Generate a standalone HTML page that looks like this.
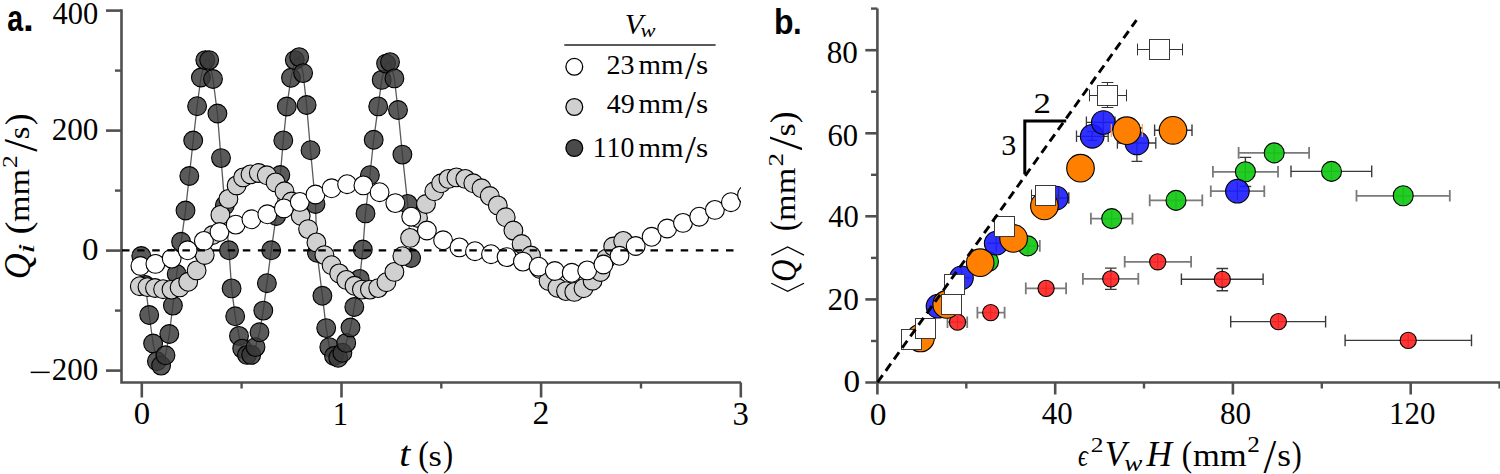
<!DOCTYPE html><html><head><meta charset="utf-8"><style>html,body{margin:0;padding:0;background:#fff;}svg{display:block;} text{font-family:"Liberation Serif",serif;}</style></head><body>
<svg width="1500" height="474" viewBox="0 0 1500 474">
<defs><clipPath id="ca"><rect x="122" y="0" width="619" height="381"/></clipPath></defs>
<path d="M121.5 9.3 V382.5 H741" fill="none" stroke="#505050" stroke-width="2.6"/>
<line x1="106" y1="10.6" x2="121.5" y2="10.6" stroke="#505050" stroke-width="2.6"/>
<line x1="106" y1="130.6" x2="121.5" y2="130.6" stroke="#505050" stroke-width="2.6"/>
<line x1="106" y1="250.6" x2="121.5" y2="250.6" stroke="#505050" stroke-width="2.6"/>
<line x1="106" y1="370.6" x2="121.5" y2="370.6" stroke="#505050" stroke-width="2.6"/>
<line x1="115" y1="70.6" x2="121.5" y2="70.6" stroke="#505050" stroke-width="2.4"/>
<line x1="115" y1="190.6" x2="121.5" y2="190.6" stroke="#505050" stroke-width="2.4"/>
<line x1="115" y1="310.6" x2="121.5" y2="310.6" stroke="#505050" stroke-width="2.4"/>
<line x1="141.8" y1="382.5" x2="141.8" y2="397.5" stroke="#505050" stroke-width="2.6"/>
<line x1="341.5" y1="382.5" x2="341.5" y2="397.5" stroke="#505050" stroke-width="2.6"/>
<line x1="541.1" y1="382.5" x2="541.1" y2="397.5" stroke="#505050" stroke-width="2.6"/>
<line x1="740.8" y1="382.5" x2="740.8" y2="397.5" stroke="#505050" stroke-width="2.6"/>
<line x1="241.6" y1="382.5" x2="241.6" y2="388.5" stroke="#505050" stroke-width="2.4"/>
<line x1="441.3" y1="382.5" x2="441.3" y2="388.5" stroke="#505050" stroke-width="2.4"/>
<line x1="641.0" y1="382.5" x2="641.0" y2="388.5" stroke="#505050" stroke-width="2.4"/>
<text transform="matrix(0.30505 0 0 0.32602 52.40 23.58)" font-size="100" style="font-family:'Liberation Serif',serif;font-style:normal;font-weight:normal;font-kerning:none" fill="#000">400</text>
<text transform="matrix(0.31242 0 0 0.31861 51.63 140.49)" font-size="100" style="font-family:'Liberation Serif',serif;font-style:normal;font-weight:normal;font-kerning:none" fill="#000">200</text>
<text transform="matrix(0.33032 0 0 0.31120 82.04 260.40)" font-size="100" style="font-family:'Liberation Serif',serif;font-style:normal;font-weight:normal;font-kerning:none" fill="#000">0</text>
<text transform="matrix(0.31030 0 0 0.31861 51.84 380.29)" font-size="100" style="font-family:'Liberation Serif',serif;font-style:normal;font-weight:normal;font-kerning:none" fill="#000">200</text>
<text transform="matrix(0.32796 0 0 0.32009 133.85 424.39)" font-size="100" style="font-family:'Liberation Serif',serif;font-style:normal;font-weight:normal;font-kerning:none" fill="#000">0</text>
<text transform="matrix(0.30677 0 0 0.32720 332.80 424.70)" font-size="100" style="font-family:'Liberation Serif',serif;font-style:normal;font-weight:normal;font-kerning:none" fill="#000">1</text>
<text transform="matrix(0.33676 0 0 0.32774 532.62 424.40)" font-size="100" style="font-family:'Liberation Serif',serif;font-style:normal;font-weight:normal;font-kerning:none" fill="#000">2</text>
<text transform="matrix(0.32681 0 0 0.32744 732.54 424.58)" font-size="100" style="font-family:'Liberation Serif',serif;font-style:normal;font-weight:normal;font-kerning:none" fill="#000">3</text>
<rect x="30.7" y="371.6" width="19" height="1.5" fill="#000"/>
<text transform="matrix(0.39778 0 0 0.36316 399.15 465.75)" font-size="100" style="font-family:'Liberation Serif',serif;font-style:italic;font-weight:normal;font-kerning:none" fill="#000">t</text>
<text transform="matrix(0.31927 0 0 0.34960 418.30 465.86)" font-size="100" style="font-family:'Liberation Serif',serif;font-style:normal;font-weight:normal;font-kerning:none" fill="#000">(</text>
<text transform="matrix(0.34294 0 0 0.30356 428.59 465.80)" font-size="100" style="font-family:'Liberation Serif',serif;font-style:normal;font-weight:normal;font-kerning:none" fill="#000">s</text>
<text transform="matrix(0.30370 0 0 0.34960 443.02 465.86)" font-size="100" style="font-family:'Liberation Serif',serif;font-style:normal;font-weight:normal;font-kerning:none" fill="#000">)</text>
<g transform="translate(29,277.3) rotate(-90)">
<text transform="matrix(0.35933 0 0 0.36883 -1.98 0.62)" font-size="100" style="font-family:'Liberation Serif',serif;font-style:italic;font-weight:normal;font-kerning:none" fill="#000">Q</text>
<text transform="matrix(0.36999 0 0 0.22957 23.64 4.70)" font-size="100" style="font-family:'Liberation Serif',serif;font-style:italic;font-weight:normal;font-kerning:none" fill="#000">i</text>
<text transform="matrix(0.38935 0 0 0.35843 42.89 0.57)" font-size="100" style="font-family:'Liberation Serif',serif;font-style:normal;font-weight:normal;font-kerning:none" fill="#000">(</text>
<text transform="matrix(0.34166 0 0 0.29287 55.18 0.00)" font-size="100" style="font-family:'Liberation Serif',serif;font-style:normal;font-weight:normal;font-kerning:none" fill="#000">mm</text>
<text transform="matrix(0.25444 0 0 0.20389 109.18 -11.70)" font-size="100" style="font-family:'Liberation Serif',serif;font-style:normal;font-weight:normal;font-kerning:none" fill="#000">2</text>
<text transform="matrix(0.45711 0 0 0.48584 125.50 7.73)" font-size="100" style="font-family:'Liberation Serif',serif;font-style:normal;font-weight:normal;font-kerning:none" fill="#000">/</text>
<text transform="matrix(0.32371 0 0 0.29317 138.17 0.01)" font-size="100" style="font-family:'Liberation Serif',serif;font-style:normal;font-weight:normal;font-kerning:none" fill="#000">s</text>
<text transform="matrix(0.34263 0 0 0.35843 152.30 0.57)" font-size="100" style="font-family:'Liberation Serif',serif;font-style:normal;font-weight:normal;font-kerning:none" fill="#000">)</text>
</g>
<text transform="matrix(0.28507 0 0 0.37601 7.26 31.43)" font-size="100" style="font-family:'Liberation Sans',sans-serif;font-style:normal;font-weight:bold;font-kerning:none" fill="#000">a</text>
<text transform="matrix(0.38976 0 0 0.36931 22.95 31.10)" font-size="100" style="font-family:'Liberation Sans',sans-serif;font-style:normal;font-weight:bold;font-kerning:none" fill="#000">.</text>
<g clip-path="url(#ca)">
<polyline points="141.3,256.0 145.3,285.0 149.2,315.0 153.1,343.5 156.9,361.2 161.1,365.6 165.5,355.3 169.3,334.0 172.9,305.6 176.7,274.0 181.1,241.8 185.5,210.5 189.3,176.0 193.2,140.5 197.1,106.2 200.9,77.5 205.3,60.1 209.2,60.1 213.0,79.0 217.4,113.5 221.0,158.1 224.8,205.4 229.0,250.3 231.6,288.4 235.2,316.3 239.0,335.9 242.2,348.6 247.0,354.9 251.2,354.9 255.5,347.1 259.5,332.3 263.3,310.6 266.9,283.2 271.2,250.3 276.2,216.0 280.3,175.0 283.3,140.4 286.8,106.5 291.0,77.8 294.8,60.1 299.2,57.1 303.1,73.1 306.6,105.0 310.5,150.2 315.5,204.0 317.0,252.7 322.4,295.8 326.2,328.1 329.3,347.1 334.0,356.0 338.2,357.7 342.4,352.8 346.2,342.9 350.5,327.5 354.3,307.0 359.7,278.9 362.8,249.5 365.5,213.4 369.9,175.2 373.7,139.8 378.2,106.4 381.7,79.9 386.1,63.6 390.0,62.1 394.4,78.4 398.0,110.0 402.4,154.6 407.7,203.9 411.1,258.0" fill="none" stroke="#5a5a5a" stroke-width="1.3"/>
<circle cx="141.3" cy="256.0" r="9.4" fill="#383838" fill-opacity="0.83" stroke="#000" stroke-width="1.1"/>
<circle cx="145.3" cy="285.0" r="9.4" fill="#383838" fill-opacity="0.83" stroke="#000" stroke-width="1.1"/>
<circle cx="149.2" cy="315.0" r="9.4" fill="#383838" fill-opacity="0.83" stroke="#000" stroke-width="1.1"/>
<circle cx="153.1" cy="343.5" r="9.4" fill="#383838" fill-opacity="0.83" stroke="#000" stroke-width="1.1"/>
<circle cx="156.9" cy="361.2" r="9.4" fill="#383838" fill-opacity="0.83" stroke="#000" stroke-width="1.1"/>
<circle cx="161.1" cy="365.6" r="9.4" fill="#383838" fill-opacity="0.83" stroke="#000" stroke-width="1.1"/>
<circle cx="165.5" cy="355.3" r="9.4" fill="#383838" fill-opacity="0.83" stroke="#000" stroke-width="1.1"/>
<circle cx="169.3" cy="334.0" r="9.4" fill="#383838" fill-opacity="0.83" stroke="#000" stroke-width="1.1"/>
<circle cx="172.9" cy="305.6" r="9.4" fill="#383838" fill-opacity="0.83" stroke="#000" stroke-width="1.1"/>
<circle cx="176.7" cy="274.0" r="9.4" fill="#383838" fill-opacity="0.83" stroke="#000" stroke-width="1.1"/>
<circle cx="181.1" cy="241.8" r="9.4" fill="#383838" fill-opacity="0.83" stroke="#000" stroke-width="1.1"/>
<circle cx="185.5" cy="210.5" r="9.4" fill="#383838" fill-opacity="0.83" stroke="#000" stroke-width="1.1"/>
<circle cx="189.3" cy="176.0" r="9.4" fill="#383838" fill-opacity="0.83" stroke="#000" stroke-width="1.1"/>
<circle cx="193.2" cy="140.5" r="9.4" fill="#383838" fill-opacity="0.83" stroke="#000" stroke-width="1.1"/>
<circle cx="197.1" cy="106.2" r="9.4" fill="#383838" fill-opacity="0.83" stroke="#000" stroke-width="1.1"/>
<circle cx="200.9" cy="77.5" r="9.4" fill="#383838" fill-opacity="0.83" stroke="#000" stroke-width="1.1"/>
<circle cx="205.3" cy="60.1" r="9.4" fill="#383838" fill-opacity="0.83" stroke="#000" stroke-width="1.1"/>
<circle cx="209.2" cy="60.1" r="9.4" fill="#383838" fill-opacity="0.83" stroke="#000" stroke-width="1.1"/>
<circle cx="213.0" cy="79.0" r="9.4" fill="#383838" fill-opacity="0.83" stroke="#000" stroke-width="1.1"/>
<circle cx="217.4" cy="113.5" r="9.4" fill="#383838" fill-opacity="0.83" stroke="#000" stroke-width="1.1"/>
<circle cx="221.0" cy="158.1" r="9.4" fill="#383838" fill-opacity="0.83" stroke="#000" stroke-width="1.1"/>
<circle cx="224.8" cy="205.4" r="9.4" fill="#383838" fill-opacity="0.83" stroke="#000" stroke-width="1.1"/>
<circle cx="229.0" cy="250.3" r="9.4" fill="#383838" fill-opacity="0.83" stroke="#000" stroke-width="1.1"/>
<circle cx="231.6" cy="288.4" r="9.4" fill="#383838" fill-opacity="0.83" stroke="#000" stroke-width="1.1"/>
<circle cx="235.2" cy="316.3" r="9.4" fill="#383838" fill-opacity="0.83" stroke="#000" stroke-width="1.1"/>
<circle cx="239.0" cy="335.9" r="9.4" fill="#383838" fill-opacity="0.83" stroke="#000" stroke-width="1.1"/>
<circle cx="242.2" cy="348.6" r="9.4" fill="#383838" fill-opacity="0.83" stroke="#000" stroke-width="1.1"/>
<circle cx="247.0" cy="354.9" r="9.4" fill="#383838" fill-opacity="0.83" stroke="#000" stroke-width="1.1"/>
<circle cx="251.2" cy="354.9" r="9.4" fill="#383838" fill-opacity="0.83" stroke="#000" stroke-width="1.1"/>
<circle cx="255.5" cy="347.1" r="9.4" fill="#383838" fill-opacity="0.83" stroke="#000" stroke-width="1.1"/>
<circle cx="259.5" cy="332.3" r="9.4" fill="#383838" fill-opacity="0.83" stroke="#000" stroke-width="1.1"/>
<circle cx="263.3" cy="310.6" r="9.4" fill="#383838" fill-opacity="0.83" stroke="#000" stroke-width="1.1"/>
<circle cx="266.9" cy="283.2" r="9.4" fill="#383838" fill-opacity="0.83" stroke="#000" stroke-width="1.1"/>
<circle cx="271.2" cy="250.3" r="9.4" fill="#383838" fill-opacity="0.83" stroke="#000" stroke-width="1.1"/>
<circle cx="276.2" cy="216.0" r="9.4" fill="#383838" fill-opacity="0.83" stroke="#000" stroke-width="1.1"/>
<circle cx="280.3" cy="175.0" r="9.4" fill="#383838" fill-opacity="0.83" stroke="#000" stroke-width="1.1"/>
<circle cx="283.3" cy="140.4" r="9.4" fill="#383838" fill-opacity="0.83" stroke="#000" stroke-width="1.1"/>
<circle cx="286.8" cy="106.5" r="9.4" fill="#383838" fill-opacity="0.83" stroke="#000" stroke-width="1.1"/>
<circle cx="291.0" cy="77.8" r="9.4" fill="#383838" fill-opacity="0.83" stroke="#000" stroke-width="1.1"/>
<circle cx="294.8" cy="60.1" r="9.4" fill="#383838" fill-opacity="0.83" stroke="#000" stroke-width="1.1"/>
<circle cx="299.2" cy="57.1" r="9.4" fill="#383838" fill-opacity="0.83" stroke="#000" stroke-width="1.1"/>
<circle cx="303.1" cy="73.1" r="9.4" fill="#383838" fill-opacity="0.83" stroke="#000" stroke-width="1.1"/>
<circle cx="306.6" cy="105.0" r="9.4" fill="#383838" fill-opacity="0.83" stroke="#000" stroke-width="1.1"/>
<circle cx="310.5" cy="150.2" r="9.4" fill="#383838" fill-opacity="0.83" stroke="#000" stroke-width="1.1"/>
<circle cx="315.5" cy="204.0" r="9.4" fill="#383838" fill-opacity="0.83" stroke="#000" stroke-width="1.1"/>
<circle cx="317.0" cy="252.7" r="9.4" fill="#383838" fill-opacity="0.83" stroke="#000" stroke-width="1.1"/>
<circle cx="322.4" cy="295.8" r="9.4" fill="#383838" fill-opacity="0.83" stroke="#000" stroke-width="1.1"/>
<circle cx="326.2" cy="328.1" r="9.4" fill="#383838" fill-opacity="0.83" stroke="#000" stroke-width="1.1"/>
<circle cx="329.3" cy="347.1" r="9.4" fill="#383838" fill-opacity="0.83" stroke="#000" stroke-width="1.1"/>
<circle cx="334.0" cy="356.0" r="9.4" fill="#383838" fill-opacity="0.83" stroke="#000" stroke-width="1.1"/>
<circle cx="338.2" cy="357.7" r="9.4" fill="#383838" fill-opacity="0.83" stroke="#000" stroke-width="1.1"/>
<circle cx="342.4" cy="352.8" r="9.4" fill="#383838" fill-opacity="0.83" stroke="#000" stroke-width="1.1"/>
<circle cx="346.2" cy="342.9" r="9.4" fill="#383838" fill-opacity="0.83" stroke="#000" stroke-width="1.1"/>
<circle cx="350.5" cy="327.5" r="9.4" fill="#383838" fill-opacity="0.83" stroke="#000" stroke-width="1.1"/>
<circle cx="354.3" cy="307.0" r="9.4" fill="#383838" fill-opacity="0.83" stroke="#000" stroke-width="1.1"/>
<circle cx="359.7" cy="278.9" r="9.4" fill="#383838" fill-opacity="0.83" stroke="#000" stroke-width="1.1"/>
<circle cx="362.8" cy="249.5" r="9.4" fill="#383838" fill-opacity="0.83" stroke="#000" stroke-width="1.1"/>
<circle cx="365.5" cy="213.4" r="9.4" fill="#383838" fill-opacity="0.83" stroke="#000" stroke-width="1.1"/>
<circle cx="369.9" cy="175.2" r="9.4" fill="#383838" fill-opacity="0.83" stroke="#000" stroke-width="1.1"/>
<circle cx="373.7" cy="139.8" r="9.4" fill="#383838" fill-opacity="0.83" stroke="#000" stroke-width="1.1"/>
<circle cx="378.2" cy="106.4" r="9.4" fill="#383838" fill-opacity="0.83" stroke="#000" stroke-width="1.1"/>
<circle cx="381.7" cy="79.9" r="9.4" fill="#383838" fill-opacity="0.83" stroke="#000" stroke-width="1.1"/>
<circle cx="386.1" cy="63.6" r="9.4" fill="#383838" fill-opacity="0.83" stroke="#000" stroke-width="1.1"/>
<circle cx="390.0" cy="62.1" r="9.4" fill="#383838" fill-opacity="0.83" stroke="#000" stroke-width="1.1"/>
<circle cx="394.4" cy="78.4" r="9.4" fill="#383838" fill-opacity="0.83" stroke="#000" stroke-width="1.1"/>
<circle cx="398.0" cy="110.0" r="9.4" fill="#383838" fill-opacity="0.83" stroke="#000" stroke-width="1.1"/>
<circle cx="402.4" cy="154.6" r="9.4" fill="#383838" fill-opacity="0.83" stroke="#000" stroke-width="1.1"/>
<circle cx="407.7" cy="203.9" r="9.4" fill="#383838" fill-opacity="0.83" stroke="#000" stroke-width="1.1"/>
<circle cx="411.1" cy="258.0" r="9.4" fill="#383838" fill-opacity="0.83" stroke="#000" stroke-width="1.1"/>
<circle cx="139.8" cy="286.2" r="9.4" fill="#d0d0d0" stroke="#000" stroke-width="1.1"/>
<circle cx="147.5" cy="287.1" r="9.4" fill="#d0d0d0" stroke="#000" stroke-width="1.1"/>
<circle cx="155.0" cy="288.0" r="9.4" fill="#d0d0d0" stroke="#000" stroke-width="1.1"/>
<circle cx="163.1" cy="289.2" r="9.4" fill="#d0d0d0" stroke="#000" stroke-width="1.1"/>
<circle cx="171.5" cy="289.6" r="9.4" fill="#d0d0d0" stroke="#000" stroke-width="1.1"/>
<circle cx="179.6" cy="287.4" r="9.4" fill="#d0d0d0" stroke="#000" stroke-width="1.1"/>
<circle cx="188.2" cy="281.8" r="9.4" fill="#d0d0d0" stroke="#000" stroke-width="1.1"/>
<circle cx="196.6" cy="270.4" r="9.4" fill="#d0d0d0" stroke="#000" stroke-width="1.1"/>
<circle cx="204.7" cy="255.0" r="9.4" fill="#d0d0d0" stroke="#000" stroke-width="1.1"/>
<circle cx="212.7" cy="235.0" r="9.4" fill="#d0d0d0" stroke="#000" stroke-width="1.1"/>
<circle cx="220.4" cy="214.9" r="9.4" fill="#d0d0d0" stroke="#000" stroke-width="1.1"/>
<circle cx="228.4" cy="198.9" r="9.4" fill="#d0d0d0" stroke="#000" stroke-width="1.1"/>
<circle cx="236.6" cy="185.4" r="9.4" fill="#d0d0d0" stroke="#000" stroke-width="1.1"/>
<circle cx="243.1" cy="177.4" r="9.4" fill="#d0d0d0" stroke="#000" stroke-width="1.1"/>
<circle cx="250.5" cy="174.4" r="9.4" fill="#d0d0d0" stroke="#000" stroke-width="1.1"/>
<circle cx="258.8" cy="173.0" r="9.4" fill="#d0d0d0" stroke="#000" stroke-width="1.1"/>
<circle cx="266.8" cy="175.3" r="9.4" fill="#d0d0d0" stroke="#000" stroke-width="1.1"/>
<circle cx="275.6" cy="182.4" r="9.4" fill="#d0d0d0" stroke="#000" stroke-width="1.1"/>
<circle cx="284.5" cy="191.3" r="9.4" fill="#d0d0d0" stroke="#000" stroke-width="1.1"/>
<circle cx="291.5" cy="201.5" r="9.4" fill="#d0d0d0" stroke="#000" stroke-width="1.1"/>
<circle cx="300.7" cy="215.8" r="9.4" fill="#d0d0d0" stroke="#000" stroke-width="1.1"/>
<circle cx="308.1" cy="229.1" r="9.4" fill="#d0d0d0" stroke="#000" stroke-width="1.1"/>
<circle cx="316.4" cy="242.4" r="9.4" fill="#d0d0d0" stroke="#000" stroke-width="1.1"/>
<circle cx="324.4" cy="255.1" r="9.4" fill="#d0d0d0" stroke="#000" stroke-width="1.1"/>
<circle cx="331.6" cy="265.2" r="9.4" fill="#d0d0d0" stroke="#000" stroke-width="1.1"/>
<circle cx="339.2" cy="273.4" r="9.4" fill="#d0d0d0" stroke="#000" stroke-width="1.1"/>
<circle cx="346.3" cy="279.9" r="9.4" fill="#d0d0d0" stroke="#000" stroke-width="1.1"/>
<circle cx="354.5" cy="285.8" r="9.4" fill="#d0d0d0" stroke="#000" stroke-width="1.1"/>
<circle cx="361.9" cy="289.6" r="9.4" fill="#d0d0d0" stroke="#000" stroke-width="1.1"/>
<circle cx="369.9" cy="289.6" r="9.4" fill="#d0d0d0" stroke="#000" stroke-width="1.1"/>
<circle cx="378.2" cy="288.1" r="9.4" fill="#d0d0d0" stroke="#000" stroke-width="1.1"/>
<circle cx="386.4" cy="282.2" r="9.4" fill="#d0d0d0" stroke="#000" stroke-width="1.1"/>
<circle cx="394.4" cy="271.9" r="9.4" fill="#d0d0d0" stroke="#000" stroke-width="1.1"/>
<circle cx="402.4" cy="256.2" r="9.4" fill="#d0d0d0" stroke="#000" stroke-width="1.1"/>
<circle cx="410.1" cy="237.9" r="9.4" fill="#d0d0d0" stroke="#000" stroke-width="1.1"/>
<circle cx="418.0" cy="218.0" r="9.4" fill="#d0d0d0" stroke="#000" stroke-width="1.1"/>
<circle cx="426.0" cy="204.0" r="9.4" fill="#d0d0d0" stroke="#000" stroke-width="1.1"/>
<circle cx="434.3" cy="191.3" r="9.4" fill="#d0d0d0" stroke="#000" stroke-width="1.1"/>
<circle cx="441.1" cy="183.3" r="9.4" fill="#d0d0d0" stroke="#000" stroke-width="1.1"/>
<circle cx="448.4" cy="178.9" r="9.4" fill="#d0d0d0" stroke="#000" stroke-width="1.1"/>
<circle cx="456.4" cy="177.4" r="9.4" fill="#d0d0d0" stroke="#000" stroke-width="1.1"/>
<circle cx="465.3" cy="178.9" r="9.4" fill="#d0d0d0" stroke="#000" stroke-width="1.1"/>
<circle cx="473.3" cy="183.3" r="9.4" fill="#d0d0d0" stroke="#000" stroke-width="1.1"/>
<circle cx="481.5" cy="188.3" r="9.4" fill="#d0d0d0" stroke="#000" stroke-width="1.1"/>
<circle cx="489.8" cy="196.0" r="9.4" fill="#d0d0d0" stroke="#000" stroke-width="1.1"/>
<circle cx="497.8" cy="205.4" r="9.4" fill="#d0d0d0" stroke="#000" stroke-width="1.1"/>
<circle cx="505.7" cy="217.3" r="9.4" fill="#d0d0d0" stroke="#000" stroke-width="1.1"/>
<circle cx="513.4" cy="230.5" r="9.4" fill="#d0d0d0" stroke="#000" stroke-width="1.1"/>
<circle cx="521.6" cy="244.0" r="9.4" fill="#d0d0d0" stroke="#000" stroke-width="1.1"/>
<circle cx="531.0" cy="255.5" r="9.4" fill="#d0d0d0" stroke="#000" stroke-width="1.1"/>
<circle cx="540.0" cy="269.0" r="9.4" fill="#d0d0d0" stroke="#000" stroke-width="1.1"/>
<circle cx="548.6" cy="281.0" r="9.4" fill="#d0d0d0" stroke="#000" stroke-width="1.1"/>
<circle cx="557.4" cy="287.8" r="9.4" fill="#d0d0d0" stroke="#000" stroke-width="1.1"/>
<circle cx="566.0" cy="291.1" r="9.4" fill="#d0d0d0" stroke="#000" stroke-width="1.1"/>
<circle cx="574.3" cy="291.9" r="9.4" fill="#d0d0d0" stroke="#000" stroke-width="1.1"/>
<circle cx="583.5" cy="288.2" r="9.4" fill="#d0d0d0" stroke="#000" stroke-width="1.1"/>
<circle cx="592.6" cy="280.7" r="9.4" fill="#d0d0d0" stroke="#000" stroke-width="1.1"/>
<circle cx="600.5" cy="272.0" r="9.4" fill="#d0d0d0" stroke="#000" stroke-width="1.1"/>
<circle cx="606.5" cy="258.6" r="9.4" fill="#d0d0d0" stroke="#000" stroke-width="1.1"/>
<circle cx="613.2" cy="246.5" r="9.4" fill="#d0d0d0" stroke="#000" stroke-width="1.1"/>
<circle cx="623.2" cy="240.9" r="9.4" fill="#d0d0d0" stroke="#000" stroke-width="1.1"/>
<circle cx="140.4" cy="266.0" r="9.4" fill="#fff" stroke="#000" stroke-width="1.1"/>
<circle cx="155.4" cy="263.9" r="9.4" fill="#fff" stroke="#000" stroke-width="1.1"/>
<circle cx="171.7" cy="258.6" r="9.4" fill="#fff" stroke="#000" stroke-width="1.1"/>
<circle cx="187.6" cy="250.3" r="9.4" fill="#fff" stroke="#000" stroke-width="1.1"/>
<circle cx="203.9" cy="240.9" r="9.4" fill="#fff" stroke="#000" stroke-width="1.1"/>
<circle cx="219.5" cy="232.0" r="9.4" fill="#fff" stroke="#000" stroke-width="1.1"/>
<circle cx="235.7" cy="224.6" r="9.4" fill="#fff" stroke="#000" stroke-width="1.1"/>
<circle cx="251.4" cy="219.3" r="9.4" fill="#fff" stroke="#000" stroke-width="1.1"/>
<circle cx="267.3" cy="214.3" r="9.4" fill="#fff" stroke="#000" stroke-width="1.1"/>
<circle cx="283.9" cy="208.4" r="9.4" fill="#fff" stroke="#000" stroke-width="1.1"/>
<circle cx="299.8" cy="201.9" r="9.4" fill="#fff" stroke="#000" stroke-width="1.1"/>
<circle cx="315.5" cy="194.5" r="9.4" fill="#fff" stroke="#000" stroke-width="1.1"/>
<circle cx="331.6" cy="188.3" r="9.4" fill="#fff" stroke="#000" stroke-width="1.1"/>
<circle cx="347.1" cy="184.2" r="9.4" fill="#fff" stroke="#000" stroke-width="1.1"/>
<circle cx="363.4" cy="185.4" r="9.4" fill="#fff" stroke="#000" stroke-width="1.1"/>
<circle cx="379.6" cy="192.2" r="9.4" fill="#fff" stroke="#000" stroke-width="1.1"/>
<circle cx="395.3" cy="203.1" r="9.4" fill="#fff" stroke="#000" stroke-width="1.1"/>
<circle cx="411.2" cy="216.7" r="9.4" fill="#fff" stroke="#000" stroke-width="1.1"/>
<circle cx="426.9" cy="230.5" r="9.4" fill="#fff" stroke="#000" stroke-width="1.1"/>
<circle cx="443.1" cy="240.3" r="9.4" fill="#fff" stroke="#000" stroke-width="1.1"/>
<circle cx="459.4" cy="247.4" r="9.4" fill="#fff" stroke="#000" stroke-width="1.1"/>
<circle cx="475.0" cy="251.2" r="9.4" fill="#fff" stroke="#000" stroke-width="1.1"/>
<circle cx="491.0" cy="254.2" r="9.4" fill="#fff" stroke="#000" stroke-width="1.1"/>
<circle cx="506.6" cy="257.1" r="9.4" fill="#fff" stroke="#000" stroke-width="1.1"/>
<circle cx="522.9" cy="261.6" r="9.4" fill="#fff" stroke="#000" stroke-width="1.1"/>
<circle cx="538.6" cy="266.7" r="9.4" fill="#fff" stroke="#000" stroke-width="1.1"/>
<circle cx="554.8" cy="271.0" r="9.4" fill="#fff" stroke="#000" stroke-width="1.1"/>
<circle cx="571.7" cy="272.8" r="9.4" fill="#fff" stroke="#000" stroke-width="1.1"/>
<circle cx="587.2" cy="270.4" r="9.4" fill="#fff" stroke="#000" stroke-width="1.1"/>
<circle cx="603.4" cy="264.5" r="9.4" fill="#fff" stroke="#000" stroke-width="1.1"/>
<circle cx="619.5" cy="255.8" r="9.4" fill="#fff" stroke="#000" stroke-width="1.1"/>
<circle cx="635.7" cy="246.0" r="9.4" fill="#fff" stroke="#000" stroke-width="1.1"/>
<circle cx="651.6" cy="236.8" r="9.4" fill="#fff" stroke="#000" stroke-width="1.1"/>
<circle cx="667.2" cy="228.5" r="9.4" fill="#fff" stroke="#000" stroke-width="1.1"/>
<circle cx="683.0" cy="222.9" r="9.4" fill="#fff" stroke="#000" stroke-width="1.1"/>
<circle cx="699.2" cy="216.7" r="9.4" fill="#fff" stroke="#000" stroke-width="1.1"/>
<circle cx="714.9" cy="209.9" r="9.4" fill="#fff" stroke="#000" stroke-width="1.1"/>
<circle cx="730.9" cy="202.2" r="9.4" fill="#fff" stroke="#000" stroke-width="1.1"/>
<circle cx="747.0" cy="194.7" r="9.4" fill="#fff" stroke="#000" stroke-width="1.1"/>
</g>
<line x1="122" y1="250.4" x2="734" y2="250.4" stroke="#000" stroke-width="2.3" stroke-dasharray="7.5 7.6"/>
<text transform="matrix(0.30086 0 0 0.30302 624.63 33.54)" font-size="100" style="font-family:'Liberation Serif',serif;font-style:italic;font-weight:normal;font-kerning:none" fill="#000">V</text>
<text transform="matrix(0.22493 0 0 0.19413 640.56 36.91)" font-size="100" style="font-family:'Liberation Serif',serif;font-style:italic;font-weight:normal;font-kerning:none" fill="#000">w</text>
<line x1="564.3" y1="45" x2="715.6" y2="45" stroke="#222" stroke-width="1.6"/>
<circle cx="574.3" cy="66.8" r="8.4" fill="#fff" stroke="#000" stroke-width="1.3"/>
<text transform="matrix(0.28026 0 0 0.27981 606.47 73.53)" font-size="100" style="font-family:'Liberation Serif',serif;font-style:normal;font-weight:normal;font-kerning:none" fill="#000">23</text>
<text transform="matrix(0.28900 0 0 0.28014 638.49 73.50)" font-size="100" style="font-family:'Liberation Serif',serif;font-style:normal;font-weight:normal;font-kerning:none" fill="#000">mm</text>
<text transform="matrix(0.39232 0 0 0.40362 684.90 79.21)" font-size="100" style="font-family:'Liberation Serif',serif;font-style:normal;font-weight:normal;font-kerning:none" fill="#000">/</text>
<text transform="matrix(0.31409 0 0 0.28069 696.11 73.53)" font-size="100" style="font-family:'Liberation Serif',serif;font-style:normal;font-weight:normal;font-kerning:none" fill="#000">s</text>
<circle cx="574.3" cy="107" r="8.4" fill="#d0d0d0" stroke="#000" stroke-width="1.3"/>
<text transform="matrix(0.27995 0 0 0.28130 606.75 112.63)" font-size="100" style="font-family:'Liberation Serif',serif;font-style:normal;font-weight:normal;font-kerning:none" fill="#000">49</text>
<text transform="matrix(0.28900 0 0 0.28014 638.49 112.60)" font-size="100" style="font-family:'Liberation Serif',serif;font-style:normal;font-weight:normal;font-kerning:none" fill="#000">mm</text>
<text transform="matrix(0.39232 0 0 0.40362 684.90 118.31)" font-size="100" style="font-family:'Liberation Serif',serif;font-style:normal;font-weight:normal;font-kerning:none" fill="#000">/</text>
<text transform="matrix(0.31409 0 0 0.28069 696.11 112.63)" font-size="100" style="font-family:'Liberation Serif',serif;font-style:normal;font-weight:normal;font-kerning:none" fill="#000">s</text>
<circle cx="574.3" cy="148" r="8.4" fill="#4a4a4a" stroke="#000" stroke-width="1.3"/>
<text transform="matrix(0.27874 0 0 0.28453 592.65 157.02)" font-size="100" style="font-family:'Liberation Serif',serif;font-style:normal;font-weight:normal;font-kerning:none" fill="#000">110</text>
<text transform="matrix(0.28900 0 0 0.28014 638.49 157.00)" font-size="100" style="font-family:'Liberation Serif',serif;font-style:normal;font-weight:normal;font-kerning:none" fill="#000">mm</text>
<text transform="matrix(0.39232 0 0 0.40362 684.90 162.71)" font-size="100" style="font-family:'Liberation Serif',serif;font-style:normal;font-weight:normal;font-kerning:none" fill="#000">/</text>
<text transform="matrix(0.31409 0 0 0.28069 696.11 157.03)" font-size="100" style="font-family:'Liberation Serif',serif;font-style:normal;font-weight:normal;font-kerning:none" fill="#000">s</text>
<path d="M877.4 8.5 V394.5 M865.3 382.5 H1500" fill="none" stroke="#505050" stroke-width="2.6"/>
<line x1="865.3" y1="299.4" x2="877.4" y2="299.4" stroke="#505050" stroke-width="2.6"/>
<line x1="865.3" y1="216.3" x2="877.4" y2="216.3" stroke="#505050" stroke-width="2.6"/>
<line x1="865.3" y1="133.3" x2="877.4" y2="133.3" stroke="#505050" stroke-width="2.6"/>
<line x1="865.3" y1="50.2" x2="877.4" y2="50.2" stroke="#505050" stroke-width="2.6"/>
<line x1="871" y1="341.0" x2="877.4" y2="341.0" stroke="#505050" stroke-width="2.4"/>
<line x1="871" y1="257.9" x2="877.4" y2="257.9" stroke="#505050" stroke-width="2.4"/>
<line x1="871" y1="174.8" x2="877.4" y2="174.8" stroke="#505050" stroke-width="2.4"/>
<line x1="871" y1="91.7" x2="877.4" y2="91.7" stroke="#505050" stroke-width="2.4"/>
<line x1="871" y1="8.6" x2="877.4" y2="8.6" stroke="#505050" stroke-width="2.4"/>
<line x1="1055.2" y1="382.5" x2="1055.2" y2="394.5" stroke="#505050" stroke-width="2.6"/>
<line x1="1232.9" y1="382.5" x2="1232.9" y2="394.5" stroke="#505050" stroke-width="2.6"/>
<line x1="1410.7" y1="382.5" x2="1410.7" y2="394.5" stroke="#505050" stroke-width="2.6"/>
<line x1="966.3" y1="382.5" x2="966.3" y2="388.5" stroke="#505050" stroke-width="2.4"/>
<line x1="1144.0" y1="382.5" x2="1144.0" y2="388.5" stroke="#505050" stroke-width="2.4"/>
<line x1="1321.8" y1="382.5" x2="1321.8" y2="388.5" stroke="#505050" stroke-width="2.4"/>
<line x1="1499.6" y1="382.5" x2="1499.6" y2="388.5" stroke="#505050" stroke-width="2.4"/>
<text transform="matrix(0.31175 0 0 0.31416 826.71 62.89)" font-size="100" style="font-family:'Liberation Serif',serif;font-style:normal;font-weight:normal;font-kerning:none" fill="#000">80</text>
<text transform="matrix(0.30579 0 0 0.31565 827.59 145.69)" font-size="100" style="font-family:'Liberation Serif',serif;font-style:normal;font-weight:normal;font-kerning:none" fill="#000">60</text>
<text transform="matrix(0.30561 0 0 0.32157 828.30 227.39)" font-size="100" style="font-family:'Liberation Serif',serif;font-style:normal;font-weight:normal;font-kerning:none" fill="#000">40</text>
<text transform="matrix(0.31374 0 0 0.31861 827.52 310.29)" font-size="100" style="font-family:'Liberation Serif',serif;font-style:normal;font-weight:normal;font-kerning:none" fill="#000">20</text>
<text transform="matrix(0.33268 0 0 0.31713 843.53 392.49)" font-size="100" style="font-family:'Liberation Serif',serif;font-style:normal;font-weight:normal;font-kerning:none" fill="#000">0</text>
<text transform="matrix(0.33504 0 0 0.31120 869.82 424.50)" font-size="100" style="font-family:'Liberation Serif',serif;font-style:normal;font-weight:normal;font-kerning:none" fill="#000">0</text>
<text transform="matrix(0.30879 0 0 0.32009 1041.80 424.39)" font-size="100" style="font-family:'Liberation Serif',serif;font-style:normal;font-weight:normal;font-kerning:none" fill="#000">40</text>
<text transform="matrix(0.31175 0 0 0.31861 1220.01 424.49)" font-size="100" style="font-family:'Liberation Serif',serif;font-style:normal;font-weight:normal;font-kerning:none" fill="#000">80</text>
<text transform="matrix(0.30931 0 0 0.32009 1388.98 424.39)" font-size="100" style="font-family:'Liberation Serif',serif;font-style:normal;font-weight:normal;font-kerning:none" fill="#000">120</text>
<text transform="matrix(0.31950 0 0 0.35540 773.89 33.85)" font-size="100" style="font-family:'Liberation Sans',sans-serif;font-style:normal;font-weight:bold;font-kerning:none" fill="#000">b</text>
<text transform="matrix(0.31181 0 0 0.34917 792.88 33.70)" font-size="100" style="font-family:'Liberation Sans',sans-serif;font-style:normal;font-weight:bold;font-kerning:none" fill="#000">.</text>
<text transform="matrix(0.24428 0 0 0.31812 1077.97 465.99)" font-size="100" style="font-family:'Liberation Serif',serif;font-style:italic;font-weight:normal;font-kerning:none" fill="#000">ϵ</text>
<text transform="matrix(0.25444 0 0 0.21749 1090.78 452.30)" font-size="100" style="font-family:'Liberation Serif',serif;font-style:normal;font-weight:normal;font-kerning:none" fill="#000">2</text>
<text transform="matrix(0.35126 0 0 0.34929 1104.86 465.67)" font-size="100" style="font-family:'Liberation Serif',serif;font-style:italic;font-weight:normal;font-kerning:none" fill="#000">V</text>
<text transform="matrix(0.27055 0 0 0.22827 1124.15 470.58)" font-size="100" style="font-family:'Liberation Serif',serif;font-style:italic;font-weight:normal;font-kerning:none" fill="#000">w</text>
<text transform="matrix(0.35355 0 0 0.35279 1146.58 465.90)" font-size="100" style="font-family:'Liberation Serif',serif;font-style:italic;font-weight:normal;font-kerning:none" fill="#000">H</text>
<text transform="matrix(0.31148 0 0 0.35953 1181.73 465.85)" font-size="100" style="font-family:'Liberation Serif',serif;font-style:normal;font-weight:normal;font-kerning:none" fill="#000">(</text>
<text transform="matrix(0.34561 0 0 0.30561 1192.97 465.90)" font-size="100" style="font-family:'Liberation Serif',serif;font-style:normal;font-weight:normal;font-kerning:none" fill="#000">mm</text>
<text transform="matrix(0.25195 0 0 0.22504 1247.19 452.40)" font-size="100" style="font-family:'Liberation Serif',serif;font-style:normal;font-weight:normal;font-kerning:none" fill="#000">2</text>
<text transform="matrix(0.45711 0 0 0.47986 1263.50 473.03)" font-size="100" style="font-family:'Liberation Serif',serif;font-style:normal;font-weight:normal;font-kerning:none" fill="#000">/</text>
<text transform="matrix(0.35255 0 0 0.30772 1277.35 466.00)" font-size="100" style="font-family:'Liberation Serif',serif;font-style:normal;font-weight:normal;font-kerning:none" fill="#000">s</text>
<text transform="matrix(0.29980 0 0 0.35953 1291.73 465.85)" font-size="100" style="font-family:'Liberation Serif',serif;font-style:normal;font-weight:normal;font-kerning:none" fill="#000">)</text>
<g transform="translate(794.6,292) rotate(-90)">
<path d="M8.7 -23.3 L0.6 -6.95 L8.7 9.4" fill="none" stroke="#000" stroke-width="1.25"/>
<text transform="matrix(0.30998 0 0 0.35791 10.09 1.50)" font-size="100" style="font-family:'Liberation Serif',serif;font-style:italic;font-weight:normal;font-kerning:none" fill="#000">Q</text>
<path d="M36.9 -23.3 L45 -6.95 L36.9 9.4" fill="none" stroke="#000" stroke-width="1.25"/>
<text transform="matrix(0.31927 0 0 0.35843 60.80 0.57)" font-size="100" style="font-family:'Liberation Serif',serif;font-style:normal;font-weight:normal;font-kerning:none" fill="#000">(</text>
<text transform="matrix(0.34298 0 0 0.29287 71.08 0.00)" font-size="100" style="font-family:'Liberation Serif',serif;font-style:normal;font-weight:normal;font-kerning:none" fill="#000">mm</text>
<text transform="matrix(0.27190 0 0 0.20389 125.51 -11.70)" font-size="100" style="font-family:'Liberation Serif',serif;font-style:normal;font-weight:normal;font-kerning:none" fill="#000">2</text>
<text transform="matrix(0.49670 0 0 0.48584 141.70 7.73)" font-size="100" style="font-family:'Liberation Serif',serif;font-style:normal;font-weight:normal;font-kerning:none" fill="#000">/</text>
<text transform="matrix(0.33653 0 0 0.29317 155.42 0.01)" font-size="100" style="font-family:'Liberation Serif',serif;font-style:normal;font-weight:normal;font-kerning:none" fill="#000">s</text>
<text transform="matrix(0.34263 0 0 0.35843 168.90 0.57)" font-size="100" style="font-family:'Liberation Serif',serif;font-style:normal;font-weight:normal;font-kerning:none" fill="#000">)</text>
</g>
<path d="M1024.8 174.2 V120.9 H1066.2" fill="none" stroke="#000" stroke-width="3"/>
<text transform="matrix(0.34923 0 0 0.28847 1033.57 113.10)" font-size="100" style="font-family:'Liberation Serif',serif;font-style:normal;font-weight:normal;font-kerning:none" fill="#000">2</text>
<text transform="matrix(0.30018 0 0 0.29916 1001.16 154.91)" font-size="100" style="font-family:'Liberation Serif',serif;font-style:normal;font-weight:normal;font-kerning:none" fill="#000">3</text>
<path d="M1017.0 245.9 H1039.8 M1017.0 240.1 V251.7 M1039.8 240.1 V251.7" stroke="#7a7a7a" stroke-width="1.8" fill="none"/>
<path d="M1090.9 218.6 H1132.5 M1090.9 212.8 V224.4 M1132.5 212.8 V224.4" stroke="#7a7a7a" stroke-width="1.8" fill="none"/>
<path d="M1149.7 200.4 H1202.3 M1149.7 194.6 V206.2 M1202.3 194.6 V206.2" stroke="#7a7a7a" stroke-width="1.8" fill="none"/>
<path d="M1212.9 171.8 H1278.0 M1212.9 166.0 V177.6 M1278.0 166.0 V177.6" stroke="#7a7a7a" stroke-width="1.8" fill="none"/>
<path d="M1238.6 152.9 H1309.1 M1238.6 147.1 V158.7 M1309.1 147.1 V158.7" stroke="#7a7a7a" stroke-width="1.8" fill="none"/>
<path d="M1291.0 171.4 H1371.7 M1291.0 165.6 V177.2 M1371.7 165.6 V177.2" stroke="#3a3a3a" stroke-width="1.4" fill="none"/>
<path d="M1356.5 195.8 H1449.8 M1356.5 190.0 V201.6 M1449.8 190.0 V201.6" stroke="#7a7a7a" stroke-width="1.8" fill="none"/>
<path d="M1245.4 157.4 V186.5 M1239.6 157.4 H1251.2 M1239.6 186.5 H1251.2" stroke="#3a3a3a" stroke-width="1.4" fill="none"/>
<path d="M988.5 253.5 V269.5" stroke="#3a3a3a" stroke-width="1.2"/>
<path d="M1027.8 237.9 V253.9" stroke="#3a3a3a" stroke-width="1.2"/>
<path d="M1111.7 210.6 V226.6" stroke="#3a3a3a" stroke-width="1.2"/>
<path d="M1176 192.4 V208.4" stroke="#3a3a3a" stroke-width="1.2"/>
<path d="M1245.4 163.8 V179.8" stroke="#3a3a3a" stroke-width="1.2"/>
<path d="M1274.2 144.9 V160.9" stroke="#3a3a3a" stroke-width="1.2"/>
<path d="M1331.5 163.4 V179.4" stroke="#3a3a3a" stroke-width="1.2"/>
<path d="M1403.2 187.8 V203.8" stroke="#3a3a3a" stroke-width="1.2"/>
<circle cx="988.5" cy="261.5" r="10" fill="#14c814" fill-opacity="0.93" stroke="#000" stroke-width="1.1"/>
<circle cx="1027.8" cy="245.9" r="10" fill="#14c814" fill-opacity="0.93" stroke="#000" stroke-width="1.1"/>
<circle cx="1111.7" cy="218.6" r="10" fill="#14c814" fill-opacity="0.93" stroke="#000" stroke-width="1.1"/>
<circle cx="1176" cy="200.4" r="10" fill="#14c814" fill-opacity="0.93" stroke="#000" stroke-width="1.1"/>
<circle cx="1245.4" cy="171.8" r="10" fill="#14c814" fill-opacity="0.93" stroke="#000" stroke-width="1.1"/>
<circle cx="1274.2" cy="152.9" r="10" fill="#14c814" fill-opacity="0.93" stroke="#000" stroke-width="1.1"/>
<circle cx="1331.5" cy="171.4" r="10" fill="#14c814" fill-opacity="0.93" stroke="#000" stroke-width="1.1"/>
<circle cx="1403.2" cy="195.8" r="10" fill="#14c814" fill-opacity="0.93" stroke="#000" stroke-width="1.1"/>
<path d="M947.5 322.2 H967.2 M947.5 316.4 V328.0 M967.2 316.4 V328.0" stroke="#7a7a7a" stroke-width="1.8" fill="none"/>
<path d="M977.4 312.6 H1004.6 M977.4 306.8 V318.4 M1004.6 306.8 V318.4" stroke="#7a7a7a" stroke-width="1.8" fill="none"/>
<path d="M1025.8 288.4 H1066.1 M1025.8 282.6 V294.2 M1066.1 282.6 V294.2" stroke="#7a7a7a" stroke-width="1.8" fill="none"/>
<path d="M1082.9 278.9 H1138.3 M1082.9 273.1 V284.7 M1138.3 273.1 V284.7" stroke="#7a7a7a" stroke-width="1.8" fill="none"/>
<path d="M1124.7 261.8 H1191.1 M1124.7 256.0 V267.6 M1191.1 256.0 V267.6" stroke="#7a7a7a" stroke-width="1.8" fill="none"/>
<path d="M1181.4 279.3 H1263.1 M1181.4 273.5 V285.1 M1263.1 273.5 V285.1" stroke="#3a3a3a" stroke-width="1.4" fill="none"/>
<path d="M1230.7 321.6 H1325.6 M1230.7 315.8 V327.4 M1325.6 315.8 V327.4" stroke="#3a3a3a" stroke-width="1.4" fill="none"/>
<path d="M1345.1 340.4 H1471.5 M1345.1 334.6 V346.2 M1471.5 334.6 V346.2" stroke="#3a3a3a" stroke-width="1.4" fill="none"/>
<path d="M1110.8 268.1 V289.4 M1105.0 268.1 H1116.6 M1105.0 289.4 H1116.6" stroke="#3a3a3a" stroke-width="1.4" fill="none"/>
<path d="M1222.3 268.5 V290.7 M1216.5 268.5 H1228.1 M1216.5 290.7 H1228.1" stroke="#3a3a3a" stroke-width="1.4" fill="none"/>
<path d="M957.5 315.7 V328.7" stroke="#3a3a3a" stroke-width="1.2"/>
<path d="M990.7 306.1 V319.1" stroke="#3a3a3a" stroke-width="1.2"/>
<path d="M1046.1 281.9 V294.9" stroke="#3a3a3a" stroke-width="1.2"/>
<path d="M1110.8 272.4 V285.4" stroke="#3a3a3a" stroke-width="1.2"/>
<path d="M1157.7 255.3 V268.3" stroke="#3a3a3a" stroke-width="1.2"/>
<path d="M1222.3 272.8 V285.8" stroke="#3a3a3a" stroke-width="1.2"/>
<path d="M1278.4 315.1 V328.1" stroke="#3a3a3a" stroke-width="1.2"/>
<path d="M1408.2 333.9 V346.9" stroke="#3a3a3a" stroke-width="1.2"/>
<circle cx="957.5" cy="322.2" r="8.1" fill="#ff2020" fill-opacity="0.9" stroke="#000" stroke-width="1.1"/>
<circle cx="990.7" cy="312.6" r="8.1" fill="#ff2020" fill-opacity="0.9" stroke="#000" stroke-width="1.1"/>
<circle cx="1046.1" cy="288.4" r="8.1" fill="#ff2020" fill-opacity="0.9" stroke="#000" stroke-width="1.1"/>
<circle cx="1110.8" cy="278.9" r="8.1" fill="#ff2020" fill-opacity="0.9" stroke="#000" stroke-width="1.1"/>
<circle cx="1157.7" cy="261.8" r="8.1" fill="#ff2020" fill-opacity="0.9" stroke="#000" stroke-width="1.1"/>
<circle cx="1222.3" cy="279.3" r="8.1" fill="#ff2020" fill-opacity="0.9" stroke="#000" stroke-width="1.1"/>
<circle cx="1278.4" cy="321.6" r="8.1" fill="#ff2020" fill-opacity="0.9" stroke="#000" stroke-width="1.1"/>
<circle cx="1408.2" cy="340.4" r="8.1" fill="#ff2020" fill-opacity="0.9" stroke="#000" stroke-width="1.1"/>
<path d="M1210.8 191.2 H1264.3 M1210.8 185.4 V197.0 M1264.3 185.4 V197.0" stroke="#7a7a7a" stroke-width="1.8" fill="none"/>
<path d="M1117.4 143.0 H1155.8 M1117.4 137.2 V148.8 M1155.8 137.2 V148.8" stroke="#3a3a3a" stroke-width="1.3" fill="none"/>
<path d="M1136.9 128.0 V161.3 M1131.5 128.0 H1142.3 M1131.5 161.3 H1142.3" stroke="#3a3a3a" stroke-width="1.3" fill="none"/>
<path d="M1044.0 198.0 H1068.8 M1044.0 192.2 V203.8 M1068.8 192.2 V203.8" stroke="#3a3a3a" stroke-width="1.4" fill="none"/>
<path d="M1076.5 136.3 H1108.2 M1076.5 130.5 V142.1 M1108.2 130.5 V142.1" stroke="#3a3a3a" stroke-width="1.3" fill="none"/>
<path d="M1092.2 131.6 V140.4 M1087.2 131.6 H1097.2 M1087.2 140.4 H1097.2" stroke="#3a3a3a" stroke-width="1.3" fill="none"/>
<path d="M1086.4 122.3 H1115.0 M1086.4 116.5 V128.1 M1115.0 116.5 V128.1" stroke="#3a3a3a" stroke-width="1.3" fill="none"/>
<path d="M1103.3 112 V133" stroke="#3a3a3a" stroke-width="1.3"/>
<path d="M929 306.2 H947 M938 297.2 V315.2" stroke="#3a3a3a" stroke-width="1.2"/>
<path d="M952.5 277.8 H970.5 M961.5 268.8 V286.8" stroke="#3a3a3a" stroke-width="1.2"/>
<path d="M987.2 243.2 H1005.2 M996.2 234.2 V252.2" stroke="#3a3a3a" stroke-width="1.2"/>
<path d="M1237.4 182 V200" stroke="#3a3a3a" stroke-width="1.2"/>
<path d="M1058.5 188 V208" stroke="#3a3a3a" stroke-width="1.2"/>
<circle cx="938" cy="306.2" r="11.8" fill="#1a1aff" fill-opacity="0.9" stroke="#000" stroke-width="1.1"/>
<circle cx="961.5" cy="277.8" r="11.8" fill="#1a1aff" fill-opacity="0.9" stroke="#000" stroke-width="1.1"/>
<circle cx="996.2" cy="243.2" r="11.8" fill="#1a1aff" fill-opacity="0.9" stroke="#000" stroke-width="1.1"/>
<circle cx="1056.3" cy="198" r="11.8" fill="#1a1aff" fill-opacity="0.9" stroke="#000" stroke-width="1.1"/>
<circle cx="1092.2" cy="136.3" r="11.8" fill="#1a1aff" fill-opacity="0.9" stroke="#000" stroke-width="1.1"/>
<circle cx="1136.9" cy="143" r="11.8" fill="#1a1aff" fill-opacity="0.9" stroke="#000" stroke-width="1.1"/>
<circle cx="1103.3" cy="122.5" r="11.8" fill="#1a1aff" fill-opacity="0.9" stroke="#000" stroke-width="1.1"/>
<circle cx="1237.4" cy="191.2" r="11.8" fill="#1a1aff" fill-opacity="0.9" stroke="#000" stroke-width="1.1"/>
<path d="M1154.6 130.3 H1192.0 M1154.6 124.5 V136.1 M1192.0 124.5 V136.1" stroke="#3a3a3a" stroke-width="1.4" fill="none"/>
<path d="M1111.3 124 V137 M1142.3 124 V137" stroke="#ffa040" stroke-width="1.2"/>
<circle cx="920.5" cy="338" r="13.8" fill="#ff8000" stroke="#000" stroke-width="1.1"/>
<circle cx="946.7" cy="304.4" r="13.8" fill="#ff8000" stroke="#000" stroke-width="1.1"/>
<circle cx="980.2" cy="262.7" r="13.8" fill="#ff8000" stroke="#000" stroke-width="1.1"/>
<circle cx="1013.6" cy="238.4" r="13.8" fill="#ff8000" stroke="#000" stroke-width="1.1"/>
<circle cx="1044.4" cy="205.9" r="13.8" fill="#ff8000" stroke="#000" stroke-width="1.1"/>
<circle cx="1080.5" cy="168.2" r="13.8" fill="#ff8000" stroke="#000" stroke-width="1.1"/>
<circle cx="1126.7" cy="130.7" r="13.8" fill="#ff8000" stroke="#000" stroke-width="1.1"/>
<circle cx="1173" cy="130.3" r="13.8" fill="#ff8000" stroke="#000" stroke-width="1.1"/>
<path d="M1031.5 195.5 H1058.5 M1031.5 189.6 V201.4 M1058.5 189.6 V201.4" stroke="#333" stroke-width="1.0" fill="none"/>
<path d="M1089.5 95.5 H1126.5 M1089.5 89.6 V101.4 M1126.5 89.6 V101.4" stroke="#333" stroke-width="1.0" fill="none"/>
<path d="M1107.5 82.5 V107.5 M1101.6 82.5 H1113.4 M1101.6 107.5 H1113.4" stroke="#333" stroke-width="1.0" fill="none"/>
<path d="M1137.5 49.5 H1182.5 M1137.5 43.6 V55.4 M1182.5 43.6 V55.4" stroke="#333" stroke-width="1.0" fill="none"/>
<rect x="901.5" y="329.5" width="20" height="20" fill="#fff" stroke="#3a3a3a" stroke-width="1.0"/>
<rect x="915.5" y="318.5" width="20" height="20" fill="#fff" stroke="#3a3a3a" stroke-width="1.0"/>
<rect x="941.5" y="294.5" width="20" height="20" fill="#fff" stroke="#3a3a3a" stroke-width="1.0"/>
<rect x="944.5" y="274.5" width="20" height="20" fill="#fff" stroke="#3a3a3a" stroke-width="1.0"/>
<rect x="994.5" y="216.5" width="20" height="20" fill="#fff" stroke="#3a3a3a" stroke-width="1.0"/>
<rect x="1035.5" y="185.5" width="20" height="20" fill="#fff" stroke="#3a3a3a" stroke-width="1.0"/>
<rect x="1097.5" y="85.5" width="20" height="20" fill="#fff" stroke="#3a3a3a" stroke-width="1.0"/>
<rect x="1149.5" y="39.5" width="20" height="20" fill="#fff" stroke="#3a3a3a" stroke-width="1.0"/>
<line x1="877.4" y1="382.5" x2="1136.5" y2="20.1" stroke="#000" stroke-width="2.9" stroke-dasharray="8.7 5.4" stroke-dashoffset="13.8"/>
</svg></body></html>
